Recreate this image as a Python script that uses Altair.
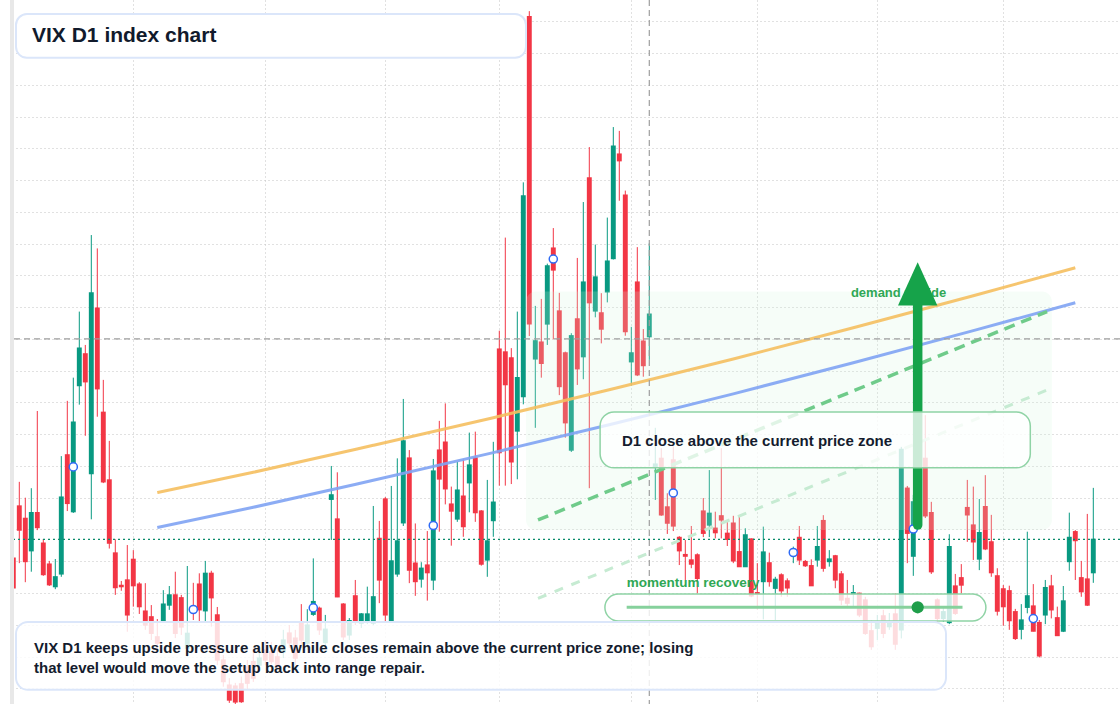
import altair as alt
import pandas as pd

# ---------------- data (VIX daily candles) ----------------
opens = [
    20.10, 21.74, 21.35, 20.33, 21.53, 20.57, 19.91, 19.20, 19.60, 23.35,
    21.56, 25.53, 26.53, 22.76, 27.97, 24.69, 22.56, 20.26, 19.24, 19.41,
    20.06, 19.28, 18.43, 18.25, 17.62, 18.13, 18.62, 18.94, 18.85, 17.26,
    18.56, 19.28, 18.44, 19.62, 18.31, 16.89, 16.10, 16.07, 16.14, 16.68,
    16.84, 16.73, 17.21, 17.15, 16.99, 17.14, 17.74, 17.58, 18.09, 17.42,
    18.33, 18.52, 17.44, 21.95, 21.33, 18.65, 17.68, 18.91, 18.05, 18.10,
    18.05, 20.72, 21.96, 18.10, 19.60, 21.21, 23.25, 19.94, 19.44, 19.88,
    19.41, 23.50, 23.75, 21.80, 21.33, 22.05, 22.47, 23.25, 21.58, 20.04,
    21.28, 26.68, 26.59, 26.40, 24.10, 25.18, 37.15, 26.37, 26.90, 27.47,
    29.86, 27.88, 26.56, 23.50, 27.63, 26.44, 32.07, 27.88, 27.82, 28.48,
    29.53, 32.82, 31.53, 26.28, 28.79, 26.93, 27.07, 22.97, 23.24, 21.71,
    23.19, 20.75, 20.21, 20.04, 20.20, 21.58, 21.14, 21.04, 21.43, 20.88,
    21.20, 20.30, 19.83, 20.70, 19.01, 19.36, 19.95, 19.15, 19.57, 19.38,
    20.23, 20.75, 19.99, 19.86, 20.04, 21.28, 19.99, 20.17, 19.60, 18.83,
    18.97, 18.99, 18.78, 17.81, 17.89, 18.28, 17.94, 18.34, 17.84, 22.30,
    20.16, 21.30, 23.24, 21.53, 18.78, 18.20, 18.07, 19.22, 19.48, 21.69,
    21.14, 20.07, 21.72, 20.61, 19.54, 19.13, 19.07, 18.41, 17.86, 18.55,
    18.59, 18.07, 18.31, 19.22, 18.22, 17.80, 19.99, 20.93, 19.48, 19.44,
    19.64,
]
highs = [
    20.29, 22.50, 22.00, 22.30, 24.73, 20.70, 20.01, 20.07, 23.31, 25.05,
    25.78, 27.86, 26.81, 30.27, 29.85, 25.71, 23.79, 20.69, 19.38, 20.51,
    20.35, 19.34, 19.31, 18.62, 18.18, 19.09, 19.22, 19.67, 18.94, 19.85,
    19.32, 19.62, 20.01, 19.70, 18.56, 17.05, 16.32, 16.17, 16.37, 16.89,
    17.21, 17.21, 17.52, 17.46, 17.27, 17.84, 17.99, 17.84, 18.65, 18.49,
    20.09, 18.57, 18.31, 23.00, 22.80, 18.68, 18.21, 19.41, 18.37, 19.20,
    21.74, 21.27, 22.02, 22.37, 23.24, 25.11, 23.50, 21.19, 19.97, 20.95,
    23.22, 24.42, 24.97, 22.35, 23.13, 23.21, 24.05, 24.08, 21.61, 22.56,
    23.76, 27.26, 30.19, 26.71, 27.86, 31.93, 37.32, 28.04, 28.26, 29.37,
    30.49, 28.45, 26.60, 27.18, 29.55, 31.31, 33.04, 29.97, 28.44, 30.82,
    33.67, 33.55, 31.67, 27.38, 29.89, 27.31, 30.01, 24.20, 23.56, 22.14,
    23.61, 20.79, 20.67, 21.11, 20.25, 21.99, 22.87, 21.56, 23.56, 21.24,
    21.43, 21.43, 21.04, 20.72, 19.94, 21.09, 20.27, 19.51, 19.62, 19.46,
    20.46, 21.11, 20.04, 20.06, 21.11, 21.45, 20.35, 20.20, 19.69, 19.41,
    19.25, 19.01, 18.88, 18.15, 18.31, 18.47, 18.37, 18.99, 23.60, 22.37,
    22.09, 23.19, 24.60, 21.87, 18.83, 18.53, 20.85, 19.60, 19.91, 22.56,
    22.35, 21.96, 22.71, 21.46, 19.78, 19.25, 19.23, 18.50, 18.65, 20.93,
    19.28, 18.15, 19.41, 19.57, 18.57, 19.22, 21.53, 20.98, 20.01, 21.49,
    22.31,
]
lows = [
    19.03, 19.94, 19.34, 19.67, 20.98, 19.54, 19.22, 19.12, 19.51, 21.58,
    21.52, 24.93, 23.95, 21.32, 24.55, 22.46, 20.40, 18.94, 19.07, 17.78,
    18.57, 18.34, 17.84, 17.52, 17.21, 18.09, 18.47, 17.58, 17.68, 16.99,
    18.15, 18.10, 18.10, 17.94, 16.73, 16.05, 15.54, 15.44, 15.54, 15.95,
    16.20, 16.67, 16.73, 16.76, 16.58, 16.95, 17.27, 16.73, 17.27, 17.21,
    18.28, 17.68, 17.27, 20.67, 18.87, 17.52, 17.52, 17.99, 17.90, 18.02,
    17.99, 18.68, 18.10, 18.06, 19.51, 21.11, 19.31, 18.91, 19.17, 18.76,
    19.09, 20.93, 21.79, 20.49, 21.24, 20.77, 21.54, 21.24, 19.86, 19.51,
    20.77, 22.38, 22.38, 22.43, 22.58, 24.94, 27.09, 24.20, 25.78, 26.81,
    26.99, 25.23, 23.89, 23.44, 25.55, 25.73, 22.30, 27.68, 26.86, 28.15,
    29.50, 31.35, 27.10, 25.53, 25.83, 25.81, 26.34, 21.93, 21.43, 20.86,
    20.95, 19.88, 19.41, 19.78, 18.99, 20.76, 20.76, 20.72, 20.72, 20.48,
    19.94, 19.82, 19.82, 18.87, 18.47, 18.17, 19.20, 18.15, 18.88, 18.88,
    19.94, 19.88, 19.82, 19.22, 19.83, 19.67, 19.83, 19.15, 18.62, 18.52,
    18.57, 18.24, 17.68, 17.21, 17.52, 17.58, 17.84, 17.21, 17.57, 19.94,
    19.54, 21.14, 21.36, 19.60, 18.09, 18.09, 18.02, 18.31, 18.99, 20.61,
    20.04, 19.72, 20.35, 19.51, 18.29, 17.97, 17.84, 17.52, 17.54, 18.36,
    17.79, 16.97, 18.02, 18.20, 17.65, 17.77, 19.70, 19.41, 18.88, 18.59,
    19.32,
]
closes = [
    19.16, 20.98, 19.99, 21.53, 21.06, 19.58, 19.26, 19.51, 22.02, 21.82,
    24.38, 26.71, 25.65, 28.45, 25.43, 22.50, 20.57, 19.17, 19.20, 18.31,
    19.23, 18.57, 17.99, 17.73, 17.42, 18.65, 18.94, 17.73, 17.93, 17.73,
    18.40, 18.47, 19.62, 18.85, 16.89, 16.21, 15.63, 15.57, 15.58, 16.16,
    16.32, 16.95, 16.89, 16.84, 16.68, 17.52, 17.43, 16.95, 17.52, 17.99,
    18.73, 17.84, 17.86, 22.09, 18.88, 17.62, 18.13, 18.13, 18.34, 18.34,
    18.88, 19.41, 18.31, 20.01, 20.64, 23.79, 19.72, 19.36, 19.78, 19.64,
    22.84, 22.59, 22.28, 21.58, 22.24, 21.09, 23.03, 21.53, 19.91, 20.64,
    21.86, 23.42, 25.56, 23.13, 25.78, 31.50, 27.47, 26.94, 26.23, 29.30,
    29.17, 25.50, 24.36, 27.10, 26.06, 28.79, 28.14, 28.95, 27.31, 29.45,
    33.07, 32.61, 27.23, 26.56, 25.87, 26.16, 27.78, 23.06, 21.46, 21.20,
    21.11, 20.33, 20.16, 19.91, 19.46, 20.88, 21.51, 20.90, 21.30, 20.69,
    20.01, 19.83, 20.83, 18.91, 18.98, 20.29, 19.36, 19.43, 19.07, 19.16,
    20.32, 20.04, 19.86, 19.23, 20.46, 19.78, 20.07, 19.41, 18.78, 18.68,
    19.01, 18.31, 17.73, 17.31, 18.10, 17.73, 18.10, 17.39, 23.52, 20.88,
    21.87, 22.87, 21.43, 19.67, 18.20, 18.41, 20.46, 18.36, 19.25, 21.46,
    20.61, 20.90, 20.39, 19.64, 18.43, 18.57, 18.13, 17.57, 18.15, 18.91,
    17.80, 17.02, 19.17, 18.47, 17.66, 18.75, 20.75, 20.65, 19.04, 18.62,
    20.69,
]
bar_index = list(range(len(opens)))

# month separators (bar index) and price grid
grid_x = [20, 42, 62, 81, 103, 124, 144, 165]
grid_y = list(range(16, 38))

# trend curves (bar index, price)
trend_i = [24, 40, 60, 80, 100, 120, 140, 160, 177]
blue_p = [21.06, 21.70, 22.55, 23.42, 24.33, 25.27, 26.25, 27.26, 28.14]
orange_p = [22.16, 22.80, 23.65, 24.52, 25.43, 26.37, 27.35, 28.36, 29.24]

# projected channel (dashed green)
chan_i = [87.45, 172.3]
chan_upper = [21.30, 27.86]
chan_lower = [18.83, 25.39]

# reference levels
cross_price = 27.0
cross_bar = 106
last_close = closes[-1]

# arrow (bar index, prices)
arrow_bar = 150.73
arrow_from = 21.14
arrow_base = 28.05
arrow_tip = 29.41
arrow_half = 3.28

# ---------------- scales / axes ----------------
XS = alt.Scale(domain=[-2.217, 184.45], nice=False, zero=False)
YS = alt.Scale(domain=[15.505, 37.671], nice=False, zero=False)
XA = alt.Axis(values=grid_x, grid=True, labels=False, ticks=False, domain=False,
              title=None, gridColor="#c2c2c2", gridDash=[1, 3], gridWidth=1)
YA = alt.Axis(values=grid_y, grid=True, labels=False, ticks=False, domain=False,
              title=None, gridColor="#c2c2c2", gridDash=[1, 3], gridWidth=1)


def X(f):
    return alt.X(f, type="quantitative", scale=XS, axis=XA)


def Y(f):
    return alt.Y(f, type="quantitative", scale=YS, axis=YA)


FONT = "Liberation Sans"
RED = "#f23645"
GREEN = "#089981"

df = pd.DataFrame({"i": bar_index, "open": opens, "high": highs,
                   "low": lows, "close": closes})

base = alt.Chart(df).transform_calculate(
    top="max(datum.open, datum.close) + 0.02",
    bot="min(datum.open, datum.close) - 0.02",
    xl="datum.i - 0.41",
    xr="datum.i + 0.41",
)
col = alt.condition("datum.close >= datum.open", alt.value(GREEN), alt.value(RED))

wicks = base.mark_rule(strokeWidth=1, clip=True).encode(
    x=X("i"), y=Y("low"), y2="high", color=col)
bodies = base.mark_rect(clip=True).encode(
    x=X("xl"), x2="xr", y=Y("bot"), y2="top", color=col)


def box(x, x2, y, y2, **kw):
    d = pd.DataFrame({"x": [x], "x2": [x2], "y": [y], "y2": [y2]})
    return alt.Chart(d).mark_rect(**kw).encode(x=X("x"), x2="x2", y=Y("y"), y2="y2")


def label(rows, **kw):
    d = pd.DataFrame(rows)
    return alt.Chart(d).mark_text(font=FONT, fontWeight="bold", align="left",
                                  baseline="middle", **kw).encode(
        x=X("x"), y=Y("y"), text="t:N")


zone = box(85.45, 173.1, 20.98, 28.49, fill="#d4f3de", fillOpacity=0.2,
           cornerRadius=10)

trend_df = pd.DataFrame({"i": trend_i, "blue": blue_p, "orange": orange_p})
orange = alt.Chart(trend_df).mark_line(color="#f5bf5f", strokeWidth=3, opacity=0.9,
                                       interpolate="monotone").encode(
    x=X("i"), y=Y("orange"))
blue = alt.Chart(trend_df).mark_line(color="#7fa3f3", strokeWidth=3, opacity=0.9,
                                     interpolate="monotone").encode(
    x=X("i"), y=Y("blue"))

chan_df = pd.DataFrame({"i": chan_i, "up": chan_upper, "lo": chan_lower})
chan_up = alt.Chart(chan_df).mark_line(color="#6fcb8a", strokeWidth=3.5,
                                       strokeDash=[11, 7]).encode(x=X("i"), y=Y("up"))
chan_lo = alt.Chart(chan_df).mark_line(color="#c6ebd2", strokeWidth=3,
                                       strokeDash=[9, 9]).encode(x=X("i"), y=Y("lo"))

lvl_df = pd.DataFrame({"p": [cross_price], "b": [cross_bar], "c": [last_close]})
cross_h = alt.Chart(lvl_df).mark_rule(color="#9e9e9e", strokeWidth=1.2,
                                      strokeDash=[6, 4]).encode(y=Y("p"))
cross_v = alt.Chart(lvl_df).mark_rule(color="#9e9e9e", strokeWidth=1.2,
                                      strokeDash=[6, 4]).encode(x=X("b"))
close_line = alt.Chart(lvl_df).mark_rule(color="#0b8a6a", strokeWidth=1.3,
                                         strokeDash=[2, 3]).encode(y=Y("c"))

markers = alt.Chart(df).transform_filter("datum.i % 20 == 10").transform_calculate(
    mid="(datum.open + datum.close) / 2").mark_point(
    shape="circle", filled=True, fill="white", stroke="#2f6bf5", strokeWidth=1.5,
    size=66, opacity=1).encode(x=X("i"), y=Y("mid"))

demand = label([{"x": 139.6, "y": 28.44, "t": "demand upside"}],
               fontSize=13, color="#2fa855")

shaft_df = pd.DataFrame({"x": [arrow_bar], "y": [arrow_from], "y2": [arrow_base + 0.2]})
shaft = alt.Chart(shaft_df).mark_rule(color="#16a34a", strokeWidth=9.5,
                                      strokeCap="round").encode(
    x=X("x"), y=Y("y"), y2="y2")
head_df = pd.DataFrame({"x": [arrow_bar - arrow_half, arrow_bar, arrow_bar + arrow_half],
                        "y": [arrow_base, arrow_tip, arrow_base],
                        "y2": [arrow_base] * 3})
head = alt.Chart(head_df).mark_area(color="#16a34a", opacity=1).encode(
    x=X("x"), y=Y("y"), y2="y2")

d1_box = box(97.8, 169.5, 22.94, 24.70, fill="white", fillOpacity=0.78,
             stroke="#8fd3a5", strokeWidth=1.5, cornerRadius=14)
d1_text = label([{"x": 101.45, "y": 23.79, "t": "D1 close above the current price zone"}],
                fontSize=15, color="#141c2e")

mom_box = box(98.6, 162.1, 18.12, 18.97, fill="white", fillOpacity=0.8,
              stroke="#8fd3a5", strokeWidth=1.5, cornerRadius=14)
mom_df = pd.DataFrame({"x": [102.23, 158.2], "y": [18.55, 18.55]})
mom_line = alt.Chart(mom_df).mark_line(color="#86d19c", strokeWidth=3).encode(
    x=X("x"), y=Y("y"))
mom_dot = alt.Chart(pd.DataFrame({"x": [150.73], "y": [18.55]})).mark_point(
    shape="circle", filled=True, color="#1f9e4a", size=150, opacity=1).encode(
    x=X("x"), y=Y("y"))
mom_text = label([{"x": 102.23, "y": 19.32, "t": "momentum recovery"}],
                 fontSize=13.5, color="#2fa855")

cap_box = box(0.45, 155.45, 15.95, 18.09, fill="white", fillOpacity=0.83,
              stroke="#dbe6fa", strokeWidth=2, cornerRadius=12)
cap_text = label([
    {"x": 3.45, "y": 17.27, "t": "VIX D1 keeps upside pressure alive while closes remain above the current price zone; losing"},
    {"x": 3.45, "y": 16.64, "t": "that level would move the setup back into range repair."},
], fontSize=15, color="#141c2e")

title_box = box(0.45, 85.45, 35.85, 37.23, fill="white", fillOpacity=1,
                stroke="#dbe6fa", strokeWidth=2, cornerRadius=11)
title_text = label([{"x": 3.12, "y": 36.54, "t": "VIX D1 index chart"}],
                   fontSize=21, color="#111a2c")

edge_white = box(-2.3, -0.55, 15.505, 37.671, fill="white")
edge_band = box(-0.55, 0.117, 15.505, 37.671, fill="#e8e8e8")

chart = alt.layer(
    wicks, bodies, zone, orange, blue, chan_up, chan_lo,
    cross_h, cross_v, close_line, markers, demand, shaft, head,
    d1_box, d1_text, mom_box, mom_line, mom_dot, mom_text,
    cap_box, cap_text, title_box, title_text, edge_white, edge_band,
).properties(
    width=1120, height=704, padding=0,
    autosize=alt.AutoSizeParams(type="none"),
    background="white",
).configure_view(stroke=None)

chart.save("out.html", embed_options={"renderer": "svg", "actions": False})
